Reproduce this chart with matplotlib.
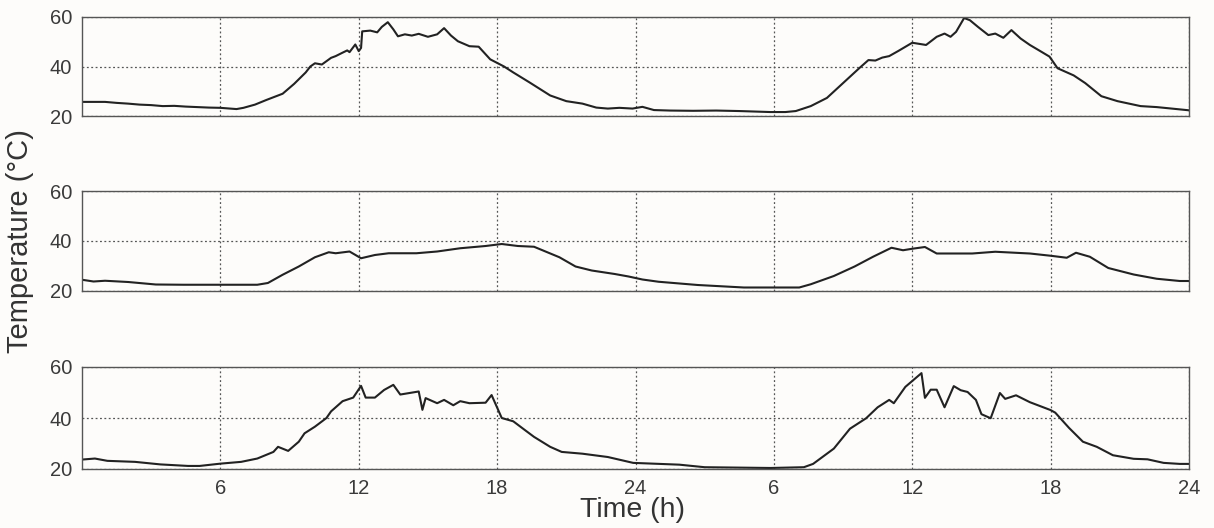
import matplotlib
matplotlib.use("Agg")
import matplotlib.pyplot as plt

# ---- data (hours 0..48, temperature in °C) ----
t1 = [0, 1.0, 1.5, 2.0, 2.5, 3.0, 3.5, 4.0, 4.5, 5.0, 5.5, 6.0, 6.7, 7.0, 7.5, 8.0, 8.7, 9.2, 9.7, 9.9, 10.1,
      10.4, 10.8, 11.0, 11.3, 11.5, 11.6, 11.85, 12.0, 12.1, 12.15, 12.5, 12.8, 13.0, 13.26, 13.5, 13.7, 14.0,
      14.3, 14.6, 15.0, 15.4, 15.7, 16.0, 16.3, 16.8, 17.2, 17.7, 18.3, 18.7, 19.4, 20.3, 21.0, 21.7, 22.3,
      22.8, 23.3, 23.87, 24.3, 24.8, 25.5, 26.5, 27.5, 28.5, 29.85, 30.5, 30.95, 31.6, 32.3, 33.0, 33.7, 34.1,
      34.4, 34.7, 35.0, 35.4, 36.0, 36.6, 37.06, 37.4, 37.66, 37.9, 38.25, 38.5, 38.85, 39.3, 39.6, 39.95,
      40.3, 40.7, 41.1, 41.5, 41.95, 42.3, 43.0, 43.5, 44.2, 44.9, 45.9, 46.6, 47.25, 48.0]
v1 = [25.7, 25.7, 25.3, 25.0, 24.6, 24.4, 24.0, 24.1, 23.8, 23.6, 23.4, 23.3, 22.8, 23.3, 24.6, 26.5, 29.0, 33.0, 37.6, 40.0, 41.3,
      40.8, 43.5, 44.2, 45.6, 46.5, 45.8, 48.9, 46.2, 47.5, 54.2, 54.5, 53.8, 56.0, 57.9, 55.0, 52.2, 53.0,
      52.5, 53.2, 52.0, 53.0, 55.5, 52.5, 50.2, 48.2, 48.0, 42.9, 40.0, 37.6, 33.6, 28.3, 26.0, 25.0, 23.4,
      23.0, 23.3, 23.0, 23.7, 22.4, 22.2, 22.1, 22.2, 22.0, 21.6, 21.6, 22.0, 24.0, 27.3, 33.3, 39.3, 42.6,
      42.4, 43.6, 44.2, 46.3, 49.6, 48.7, 52.0, 53.3, 52.0, 54.0, 59.6, 58.7, 56.0, 52.7, 53.3, 51.6,
      54.7, 51.3, 48.7, 46.5, 44.0, 39.3, 36.4, 33.3, 28.0, 26.0, 24.0, 23.6, 23.0, 22.3]

t2 = [0, 0.5, 1.0, 2.0, 3.2, 4.4, 6.0, 7.6, 8.06, 8.7, 9.4, 10.1, 10.7, 11.0, 11.6, 12.1, 12.7, 13.3, 14.5,
      15.4, 16.4, 17.5, 18.2, 18.9, 19.6, 20.7, 21.4, 22.1, 23.1, 23.7, 24.3, 25.0, 26.7, 27.5, 28.7, 29.85,
      31.1, 31.6, 32.6, 33.5, 34.3, 35.1, 35.6, 36.0, 36.55, 37.06, 38.6, 39.6, 41.1, 42.0, 42.7, 43.1, 43.7,
      44.5, 45.6, 46.6, 47.6, 48.0]
v2 = [24.5, 23.8, 24.1, 23.6, 22.6, 22.5, 22.5, 22.5, 23.2, 26.5, 29.8, 33.5, 35.5, 35.1, 35.8, 33.1, 34.4, 35.1, 35.1,
      35.8, 37.1, 38.0, 38.8, 38.0, 37.7, 33.5, 29.8, 28.2, 26.8, 25.8, 24.6, 23.7, 22.4, 22.0, 21.4, 21.4,
      21.4, 22.7, 26.0, 29.8, 33.7, 37.3, 36.3, 36.9, 37.6, 35.0, 35.0, 35.7, 35.0, 34.1, 33.3, 35.3, 33.7,
      29.2, 26.6, 24.9, 24.0, 24.0]

t3 = [0, 0.56, 1.1, 2.3, 3.4, 4.6, 5.1, 6.0, 6.9, 7.6, 8.3, 8.5, 8.94, 9.4, 9.65, 10.1, 10.6, 10.8, 11.3, 11.76,
      12.1, 12.3, 12.7, 13.1, 13.5, 13.8, 14.2, 14.6, 14.76, 14.9, 15.4, 15.7, 16.1, 16.4, 16.8, 17.5, 17.76,
      18.2, 18.7, 19.2, 19.6, 20.3, 20.8, 21.7, 22.8, 23.9, 25.9, 27.0, 29.85, 31.3, 31.7, 32.6, 33.3, 34.0,
      34.5, 35.0, 35.2, 35.7, 36.05, 36.4, 36.55, 36.8, 37.06, 37.4, 37.8, 38.1, 38.4, 38.76, 39.0, 39.4,
      39.8, 40.03, 40.5, 41.1, 42.0, 42.2, 42.8, 43.4, 44.0, 44.7, 45.6, 46.2, 46.9, 47.6, 48.0]
v3 = [23.7, 24.1, 23.2, 22.8, 21.8, 21.2, 21.2, 22.1, 22.8, 24.1, 26.7, 28.7, 27.1, 30.7, 34.0, 36.6, 40.0, 42.6, 46.6, 48.0,
      52.6, 48.0, 48.0, 51.0, 53.0, 49.2, 49.8, 50.4, 43.2, 47.8, 45.8, 47.1, 45.0, 46.6, 45.8, 46.0, 49.0,
      40.0, 38.7, 35.3, 32.6, 28.7, 26.7, 26.0, 24.7, 22.4, 21.7, 20.7, 20.4, 20.7, 22.0, 28.0, 35.8, 39.9,
      44.2, 47.1, 45.8, 52.2, 54.9, 57.6, 47.9, 51.1, 51.1, 44.2, 52.5, 50.9, 50.2, 47.1, 41.5, 39.9,
      49.8, 47.5, 48.9, 46.2, 43.1, 42.1, 36.1, 30.7, 28.7, 25.4, 24.0, 23.8, 22.4, 22.0, 22.0]

xticks = [6, 12, 18, 24, 30, 36, 42, 48]
xticklabels = ['6', '12', '18', '24', '6', '12', '18', '24']
yticks = [20, 40, 60]

plt.rcParams['font.family'] = ['Liberation Sans', 'DejaVu Sans']

bg = '#fdfcfa'
fig = plt.figure(figsize=(12.14, 5.28), dpi=100, facecolor=bg)
W, H = 1214, 528
left, right = 82 / W, 1189 / W
panels = [(17, 116), (191, 291), (367, 469)]
series = [(t1, v1), (t2, v2), (t3, v3)]

for i, ((top, bot), (t, v)) in enumerate(zip(panels, series)):
    ax = fig.add_axes([left, 1 - bot / H, right - left, (bot - top) / H])
    ax.set_facecolor(bg)
    ax.plot(t, v, color='#222222', lw=1.5)
    ax.set_xlim(0, 48)
    ax.set_ylim(20, 60)
    ax.set_xticks(xticks)
    ax.set_yticks(yticks)
    ax.grid(True, linestyle=(0, (1.5, 2)), color='#555555', lw=0.9)
    ax.tick_params(axis='both', length=0, labelsize=14.5, colors='#3a3a3a', pad=7)
    if i == 2:
        ax.set_xticklabels(xticklabels)
    else:
        ax.set_xticklabels([])
    for s in ax.spines.values():
        s.set_color('#555555')
        s.set_linewidth(1.0)

fig.text(20 / W, 1 - 241 / H, 'Temperature (°C)', rotation=90, ha='center', va='center',
         fontsize=21, color='#333333')
fig.text(633 / W, 1 - 510 / H, 'Time (h)', ha='center', va='center', fontsize=20.5, color='#333333')

fig.savefig('out.png', dpi=100, facecolor=bg)
